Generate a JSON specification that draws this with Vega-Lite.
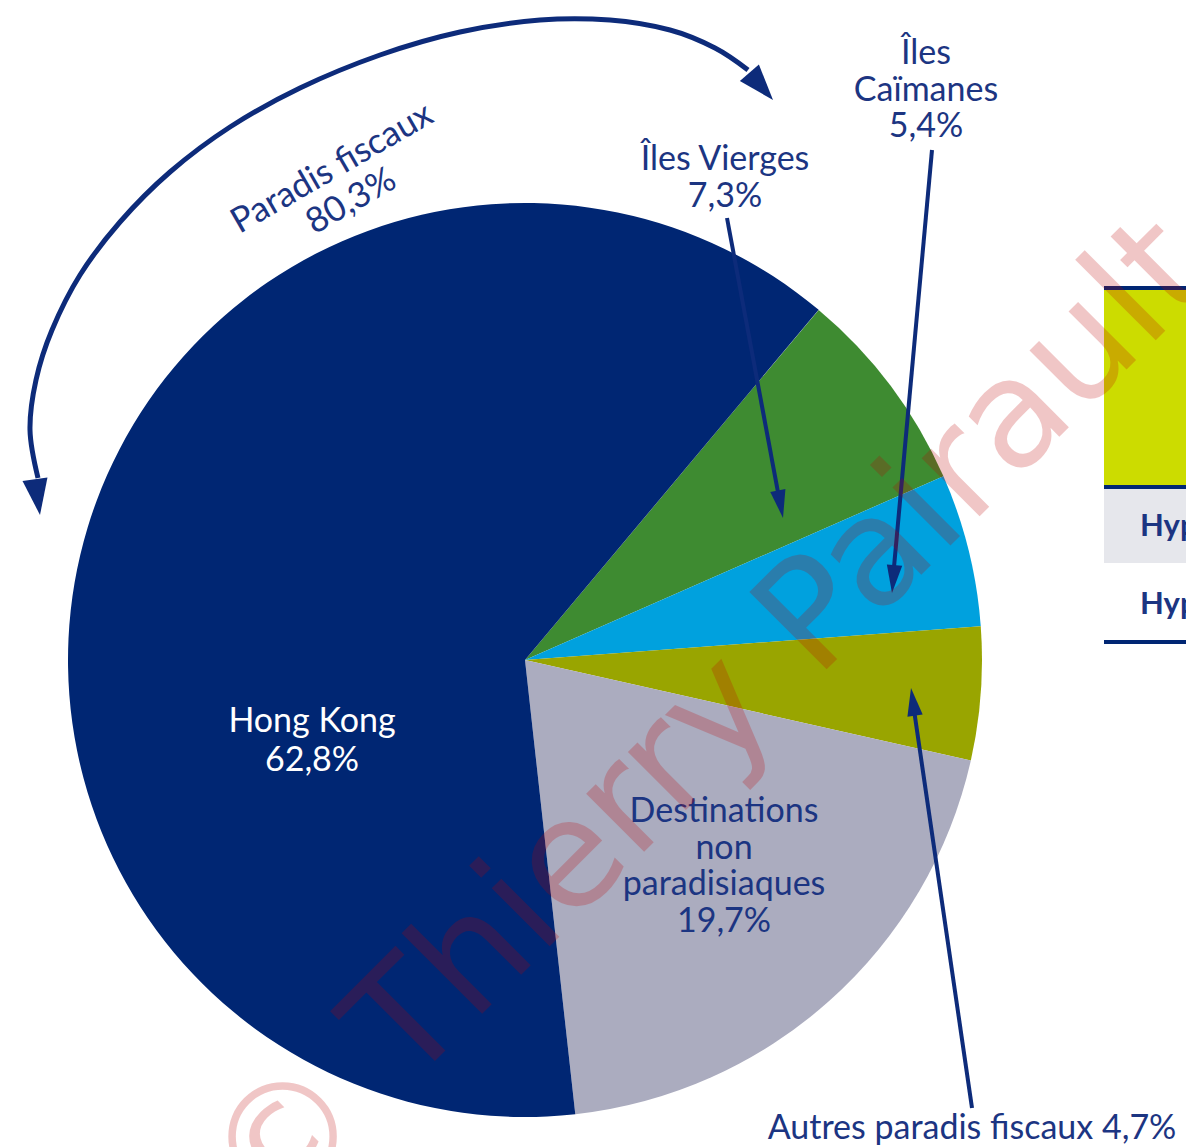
{
  "$schema": "https://vega.github.io/schema/vega-lite/v6.json",
  "width": 1186,
  "height": 1147,
  "padding": 0,
  "autosize": {"type": "none"},
  "background": "white",
  "config": {"view": {"stroke": null}},
  "datasets": {
    "slices": [
      {"name": "Îles Vierges", "value": 7.3, "ord": 1},
      {"name": "Îles Caïmanes", "value": 5.4, "ord": 2},
      {"name": "Autres paradis fiscaux", "value": 4.7, "ord": 3},
      {"name": "Destinations non paradisiaques", "value": 19.7, "ord": 4},
      {"name": "Hong Kong", "value": 62.8, "ord": 5}
    ],
    "labels": [
      {"name": "Hong Kong", "label": "Hong Kong\n62,8%", "x": 312, "y": 722},
      {"name": "Îles Vierges", "label": "Îles Vierges\n7,3%", "x": 725, "y": 160},
      {"name": "Îles Caïmanes", "label": "Îles\nCaïmanes\n5,4%", "x": 926, "y": 54},
      {"name": "Destinations non paradisiaques", "label": "Destinations\nnon\nparadisiaques\n19,7%", "x": 724, "y": 812},
      {"name": "Autres paradis fiscaux", "label": "Autres paradis fiscaux 4,7%", "x": 972, "y": 1129}
    ],
    "curve": [
      {"i": 1, "x": 38, "y": 478},
      {"i": 2, "x": 30, "y": 430},
      {"i": 3, "x": 36, "y": 380},
      {"i": 4, "x": 52, "y": 330},
      {"i": 5, "x": 80, "y": 275},
      {"i": 6, "x": 120, "y": 222},
      {"i": 7, "x": 170, "y": 172},
      {"i": 8, "x": 230, "y": 127},
      {"i": 9, "x": 300, "y": 88},
      {"i": 10, "x": 380, "y": 55},
      {"i": 11, "x": 460, "y": 32},
      {"i": 12, "x": 540, "y": 20},
      {"i": 13, "x": 610, "y": 20},
      {"i": 14, "x": 670, "y": 30},
      {"i": 15, "x": 715, "y": 48},
      {"i": 16, "x": 748, "y": 70}
    ],
    "arrows": [
      {"x": 727, "y": 218, "x2": 780, "y2": 503},
      {"x": 932, "y": 150, "x2": 893, "y2": 578},
      {"x": 972, "y": 1108, "x2": 913, "y2": 703}
    ],
    "heads": [
      {"x": 783, "y": 518, "heading": 169.4},
      {"x": 892, "y": 593, "heading": 185.2},
      {"x": 911, "y": 688, "heading": 351.7}
    ],
    "curveHeads": [
      {"x": 40, "y": 515, "heading": 172},
      {"x": 773, "y": 100, "heading": 139}
    ]
  },
  "layer": [
    {
      "data": {"name": "slices"},
      "mark": {"type": "arc", "radius": 457},
      "encoding": {
        "theta": {"field": "value", "type": "quantitative", "stack": true, "scale": {"range": [0.698, 6.981]}},
        "order": {"field": "ord", "type": "quantitative"},
        "color": {
          "field": "name", "type": "nominal", "legend": null,
          "scale": {
            "domain": ["Îles Vierges", "Îles Caïmanes", "Autres paradis fiscaux", "Destinations non paradisiaques", "Hong Kong"],
            "range": ["#3E8B31", "#00A1DE", "#99A500", "#ABACBF", "#002673"]
          }
        },
        "x": {"datum": 525, "type": "quantitative", "scale": {"domain": [0, 1186], "nice": false, "zero": false}, "axis": null},
        "y": {"datum": 660, "type": "quantitative", "scale": {"domain": [0, 1147], "nice": false, "zero": false, "reverse": true}, "axis": null}
      }
    },
    {
      "data": {"values": [{"part": "band", "x": 1104, "x2": 1200, "y": 290, "y2": 486}]},
      "mark": {"type": "rect", "color": "#CCDC00"},
      "encoding": {
        "x": {"field": "x", "type": "quantitative", "scale": {"domain": [0, 1186], "nice": false, "zero": false}, "axis": null},
        "x2": {"field": "x2"},
        "y": {"field": "y", "type": "quantitative", "scale": {"domain": [0, 1147], "nice": false, "zero": false, "reverse": true}, "axis": null},
        "y2": {"field": "y2"}
      }
    },
    {
      "data": {"values": [{"part": "row", "x": 1104, "x2": 1200, "y": 489, "y2": 563}]},
      "mark": {"type": "rect", "color": "#E6E7EC"},
      "encoding": {
        "x": {"field": "x", "type": "quantitative", "axis": null},
        "x2": {"field": "x2"},
        "y": {"field": "y", "type": "quantitative", "axis": null},
        "y2": {"field": "y2"}
      }
    },
    {
      "data": {"values": [
        {"x": 1104, "x2": 1200, "y": 288},
        {"x": 1104, "x2": 1200, "y": 487},
        {"x": 1104, "x2": 1200, "y": 642}
      ]},
      "mark": {"type": "rule", "color": "#002673", "strokeWidth": 4},
      "encoding": {
        "x": {"field": "x", "type": "quantitative", "axis": null},
        "x2": {"field": "x2"},
        "y": {"field": "y", "type": "quantitative", "axis": null}
      }
    },
    {
      "data": {"values": [
        {"label": "Hyp", "x": 1140, "y": 527},
        {"label": "Hyp", "x": 1140, "y": 605}
      ]},
      "mark": {"type": "text", "font": "Lato", "fontWeight": "bold", "fontSize": 31, "color": "#1C3582", "align": "left", "baseline": "middle"},
      "encoding": {
        "x": {"field": "x", "type": "quantitative", "axis": null},
        "y": {"field": "y", "type": "quantitative", "axis": null},
        "text": {"field": "label"}
      }
    },
    {
      "data": {"name": "curve"},
      "mark": {"type": "line", "color": "#0D2B7A", "strokeWidth": 5, "interpolate": "cardinal"},
      "encoding": {
        "x": {"field": "x", "type": "quantitative", "axis": null},
        "y": {"field": "y", "type": "quantitative", "axis": null},
        "order": {"field": "i", "type": "quantitative"}
      }
    },
    {
      "data": {"name": "curveHeads"},
      "mark": {"type": "point", "shape": "M0,0L0.7,2L-0.7,2Z", "filled": true, "color": "#0D2B7A", "opacity": 1, "size": 1296, "strokeWidth": 0},
      "encoding": {
        "x": {"field": "x", "type": "quantitative", "axis": null},
        "y": {"field": "y", "type": "quantitative", "axis": null},
        "angle": {"field": "heading", "type": "quantitative", "scale": null}
      }
    },
    {
      "data": {"name": "arrows"},
      "mark": {"type": "rule", "color": "#0D2B7A", "strokeWidth": 4},
      "encoding": {
        "x": {"field": "x", "type": "quantitative", "axis": null},
        "y": {"field": "y", "type": "quantitative", "axis": null},
        "x2": {"field": "x2"},
        "y2": {"field": "y2"}
      }
    },
    {
      "data": {"name": "heads"},
      "mark": {"type": "point", "shape": "M0,0L0.55,2L-0.55,2Z", "filled": true, "color": "#0D2B7A", "opacity": 1, "size": 784, "strokeWidth": 0},
      "encoding": {
        "x": {"field": "x", "type": "quantitative", "axis": null},
        "y": {"field": "y", "type": "quantitative", "axis": null},
        "angle": {"field": "heading", "type": "quantitative", "scale": null}
      }
    },
    {
      "data": {"name": "labels"},
      "transform": [{"filter": "datum.name === 'Hong Kong'"}],
      "mark": {"type": "text", "font": "Lato", "fontSize": 34, "lineBreak": "\n", "lineHeight": 39, "color": "white", "align": "center", "baseline": "middle"},
      "encoding": {
        "x": {"field": "x", "type": "quantitative", "axis": null},
        "y": {"field": "y", "type": "quantitative", "axis": null},
        "text": {"field": "label"}
      }
    },
    {
      "data": {"name": "labels"},
      "transform": [{"filter": "datum.name !== 'Hong Kong'"}],
      "mark": {"type": "text", "font": "Lato", "fontSize": 34, "lineBreak": "\n", "lineHeight": 36.5, "color": "#1C3582", "align": "center", "baseline": "middle"},
      "encoding": {
        "x": {"field": "x", "type": "quantitative", "axis": null},
        "y": {"field": "y", "type": "quantitative", "axis": null},
        "text": {"field": "label"}
      }
    },
    {
      "data": {"values": [{"label": "Paradis fiscaux\n80,3%", "x": 332, "y": 168}]},
      "mark": {"type": "text", "font": "Lato", "fontSize": 35, "lineBreak": "\n", "lineHeight": 38, "color": "#1C3582", "align": "center", "baseline": "middle", "angle": -30},
      "encoding": {
        "x": {"field": "x", "type": "quantitative", "axis": null},
        "y": {"field": "y", "type": "quantitative", "axis": null},
        "text": {"field": "label"}
      }
    },
    {
      "data": {"values": [{"label": "© Thierry Pairault", "x": 268, "y": 1228}]},
      "mark": {"type": "text", "font": "DejaVu Sans", "fontSize": 150, "color": "#C00000", "opacity": 0.22, "align": "left", "baseline": "alphabetic", "angle": -45},
      "encoding": {
        "x": {"field": "x", "type": "quantitative", "axis": null},
        "y": {"field": "y", "type": "quantitative", "axis": null},
        "text": {"field": "label"}
      }
    }
  ]
}
